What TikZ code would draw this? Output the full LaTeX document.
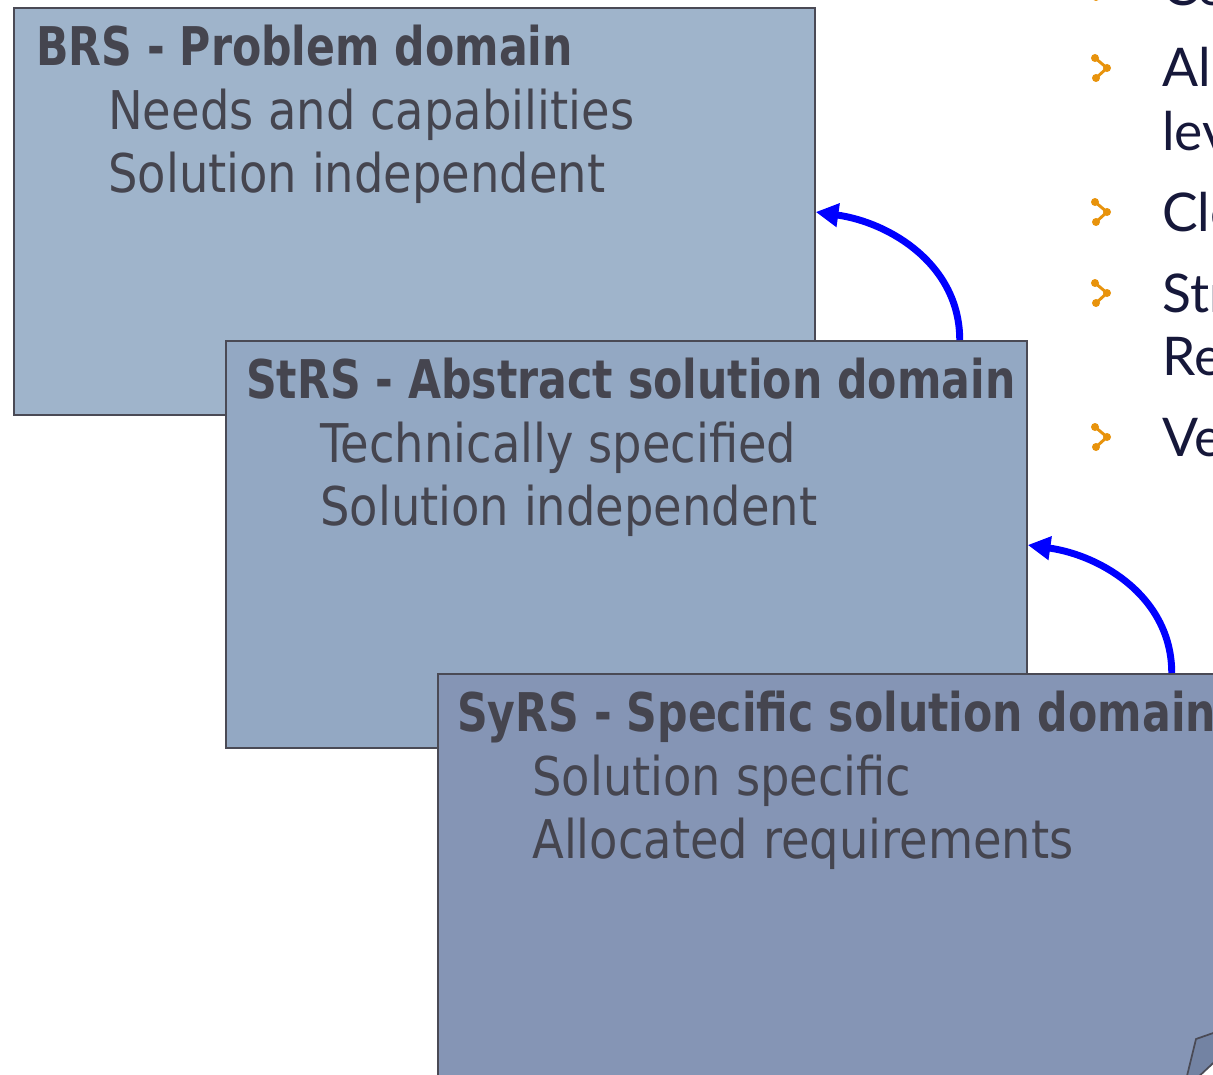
\documentclass[tikz,border=0pt]{standalone}
\usepackage{fontspec}
\newfontfamily\boxfont[FakeStretch=0.87]{DejaVu Sans}
\newfontfamily\headfont[FakeStretch=0.80]{DejaVu Sans}
\newfontfamily\listfont{Lato}
\usetikzlibrary{arrows.meta, positioning, calc}
\definecolor{brsFill}{HTML}{9FB4CB}
\definecolor{strsFill}{HTML}{93A8C3}
\definecolor{syrsFill}{HTML}{8595B5}
\definecolor{boxLine}{HTML}{4A4A55}
\definecolor{boxText}{HTML}{45454F}
\definecolor{listText}{HTML}{16183A}
\definecolor{listMark}{HTML}{E8930C}
\definecolor{curlFill}{HTML}{7383A3}

\begin{document}
\begin{tikzpicture}[x=0.75pt, y=0.75pt,
    specbox/.style={rectangle, draw=boxLine, line width=1.3pt, anchor=north west, inner sep=0pt,
      minimum width=600.75pt, minimum height=305.25pt},
    boxtitle/.style={anchor=base west, inner sep=0pt, text=boxText, font=\headfont\bfseries\fontsize{40}{48}\selectfont},
    boxline/.style={anchor=base west, inner sep=0pt, text=boxText, font=\boxfont\fontsize{40}{48}\selectfont},
    listitem/.style={anchor=base west, inner sep=0pt, text=listText, font=\listfont\fontsize{40}{48}\selectfont},
    refine/.style={draw=blue, line width=5.2pt, -{Triangle[length=17pt, width=17pt]}},
    dotmark/.pic={
      \draw[listMark, line width=2.2pt] (-6,10) -- (6,0) -- (-5,-10);
      \fill[listMark] (-6,10) circle (4) (6,0) circle (4) (-5,-10) circle (4);
    }
  ]
    \useasboundingbox (0,0) rectangle (1213,-1074);
    \fill[white] (0,0) rectangle (1213,-1074);
    \clip (0,0) rectangle (1213,-1074);

    % Specification boxes, each one stepped down and right of the last
    \node[specbox, fill=brsFill] (brs) at (13,-7) {};
    \node[boxtitle] (brsHead) at ([shift={(23,-58)}]brs.north west) {BRS - Problem domain};
    \node[boxline] (brsL1) at ([shift={(95,-122)}]brs.north west) {Needs and capabilities};
    \node[boxline] (brsL2) at ([shift={(95,-185)}]brs.north west) {Solution independent};

    \node[specbox, fill=strsFill] (strs) at ([shift={(212,-333)}]brs.north west) {};
    \node[boxtitle] (strsHead) at ([shift={(21,-58)}]strs.north west) {StRS - Abstract solution domain};
    \node[boxline] (strsL1) at ([shift={(95,-122)}]strs.north west) {Technically specified};
    \node[boxline] (strsL2) at ([shift={(95,-185)}]strs.north west) {Solution independent};

    \node[specbox, fill=syrsFill] (syrs) at ([shift={(212,-333)}]strs.north west) {};
    \node[boxtitle] (syrsHead) at ([shift={(20,-58)}]syrs.north west) {SyRS - Specific solution domain};
    \node[boxline] (syrsL1) at ([shift={(95,-122)}]syrs.north west) {Solution specific};
    \node[boxline] (syrsL2) at ([shift={(95,-185)}]syrs.north west) {Allocated requirements};

    % Curled corner of the last box
    \fill[white] (1195,-1080) -- (1239,-1039) -- (1239,-1080) -- cycle;
    \draw[boxLine, line width=1.3pt, fill=curlFill, line join=round]
      (1186,-1080) -- (1196,-1039) -- (1239,-1024) -- (1239,-1039) -- (1195,-1080);

    % Arrows back up to the previous level
    \draw[refine] ([xshift=-51pt]strs.north east) to[out=90, in=-8] ([yshift=-153.75pt]brs.north east);
    \draw[refine] ([xshift=-51pt]syrs.north east) to[out=90, in=-8] ([yshift=-153.75pt]strs.north east);

    % Bullet list on the right
    \pic at (1101,13) {dotmark};
    \pic at (1101,-68) {dotmark};
    \pic at (1101,-212) {dotmark};
    \pic at (1101,-293) {dotmark};
    \pic at (1101,-437) {dotmark};
    \node[listitem] (item1) at (1162,-6) {Co};
    \node[listitem] (item2) at (1162,-87) {All};
    \node[listitem] (item2b) at (1162,-150) {lev};
    \node[listitem] (item3) at (1162,-231) {Cle};
    \node[listitem] (item4) at (1162,-312) {Str};
    \node[listitem] (item4b) at (1162,-375) {Re};
    \node[listitem] (item5) at (1162,-456) {Ve};

\end{tikzpicture}
\end{document}
